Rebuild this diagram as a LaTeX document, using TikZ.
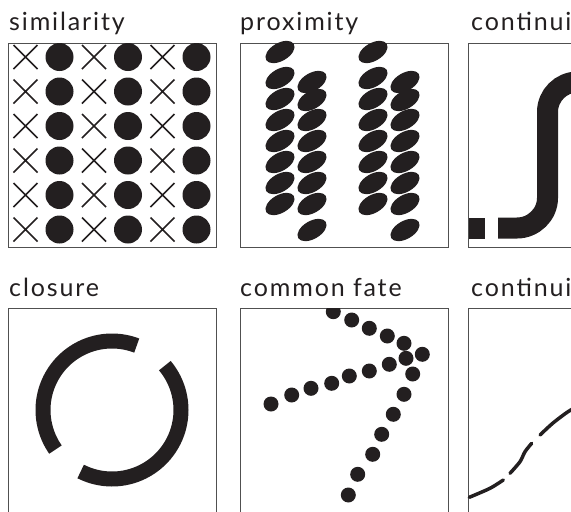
\documentclass[tikz,border=0pt]{standalone}
\usepackage{fontspec}
\setmainfont{Lato}
\newfontfamily\titlefont{Lato}[LetterSpace=7.5]
\usepackage{tikz}
\usetikzlibrary{positioning}
\usepackage{xcolor}
\definecolor{ink}{HTML}{231F20}
\definecolor{frame}{HTML}{505050}

\begin{document}
\begin{tikzpicture}[x=1pt,y=-1pt]
        %styles
        \tikzstyle{panel}=[draw=frame, line width=1pt, minimum width=208pt, minimum height=204pt, anchor=north west, inner sep=0pt]
        \tikzstyle{title}=[anchor=base west, inner sep=0pt, text=ink, font=\titlefont\fontsize{25}{30}\selectfont]
        \tikzstyle{blob}=[fill=ink]
        \tikzstyle{cross}=[draw=ink, line width=1.7pt]
        \tikzstyle{band}=[draw=ink, line width=21pt]
        \tikzstyle{ring}=[draw=ink, line width=15pt]
        \tikzstyle{trail}=[draw=ink, line width=3.5pt, line cap=round]

        \useasboundingbox (0,0) rectangle (571,512);
        \clip (0,0) rectangle (571,512);

        %panels
        \node[panel] (sim) at (8,43) {};
        \node[panel] (prox) at (240,43) {};
        \node[panel] (cont) at (468,43) {};
        \node[panel, minimum height=210pt] (clos) at (8,308) {};
        \node[panel, minimum height=210pt] (fate) at (240,308) {};
        \node[panel, minimum height=210pt] (cont2) at (468,308) {};

        %titles
        \node[title] (tsim) at (9,30) {similarity};
        \node[title] (tprox) at (240,30) {proximity};
        \node[title] (tcont) at (471,30) {continuity};
        \node[title] (tclos) at (9,296) {closure};
        \node[title] (tfate) at (240,296) {common fate};
        \node[title] (tcont2) at (471,296) {continuity};

        %similarity
        \foreach \y in {57,91.5,...,230}{
            \foreach \x in {25.5,94,162.5}{
                \draw[cross] (\x-12,\y-12) -- (\x+12,\y+12) (\x-12,\y+12) -- (\x+12,\y-12);
                \fill[blob] (\x+34,\y) circle (14);
            }
        }

        %proximity
        \foreach \dx in {0,93}{
            \foreach \y in {52,78,99,120,141,162,183,204}
                \fill[blob] (280+\dx,\y) ellipse [x radius=16, y radius=9, rotate=30];
            \foreach \y in {82,100,120,141,162,183,204,230}
                \fill[blob] (312+\dx,\y) ellipse [x radius=16, y radius=9, rotate=30];
        }

        %continuity
        \fill[blob] (469,217.5) rectangle (485,238.5);
        \draw[band] (498,228) -- (517,228) .. controls (533.5,228) and (547.5,214.5) .. (547.5,198)
            -- (547.5,112) .. controls (547.5,95.5) and (561,82) .. (577.5,82) -- (600,82);

        %closure
        \draw[ring] plot[domain=69:215, samples=60] ({112+69*cos(\x)},{410-69*sin(\x)});
        \draw[ring] plot[domain=243:400, samples=60] ({112+69*cos(\x)},{410-69*sin(\x)});

        %common fate
        \begin{scope}
            \clip (fate.north west) rectangle (fate.south east);
            \foreach \x/\y in {333.3/311.7, 351.7/320, 369.3/328.3, 387.3/336, 404/343.3, 422.3/354.3}
                \fill[blob] (\x,\y) circle (7.5);
            \foreach \x/\y in {271/404, 291.7/395, 311/388.3, 331.7/383.3, 349.3/376, 369.3/371, 389.3/364.3, 406/358.3}
                \fill[blob] (\x,\y) circle (7.5);
            \foreach \x/\y in {412.7/374, 404/394.3, 393.3/414.3, 381.7/434.3, 372.7/454.3, 357.7/474.3, 348.3/495}
                \fill[blob] (\x,\y) circle (7.5);
        \end{scope}

        %continuity, broken line
        \draw[trail] plot[smooth] coordinates {(469.3,497.3) (490,488.3) (503.3,480)};
        \draw[trail] plot[smooth] coordinates {(510,473.3) (520,461.7) (525,451.7) (531.7,443.3)};
        \draw[trail] plot[smooth] coordinates {(540,435) (553,423) (568,411.7) (580,405)};
\end{tikzpicture}
\end{document}
